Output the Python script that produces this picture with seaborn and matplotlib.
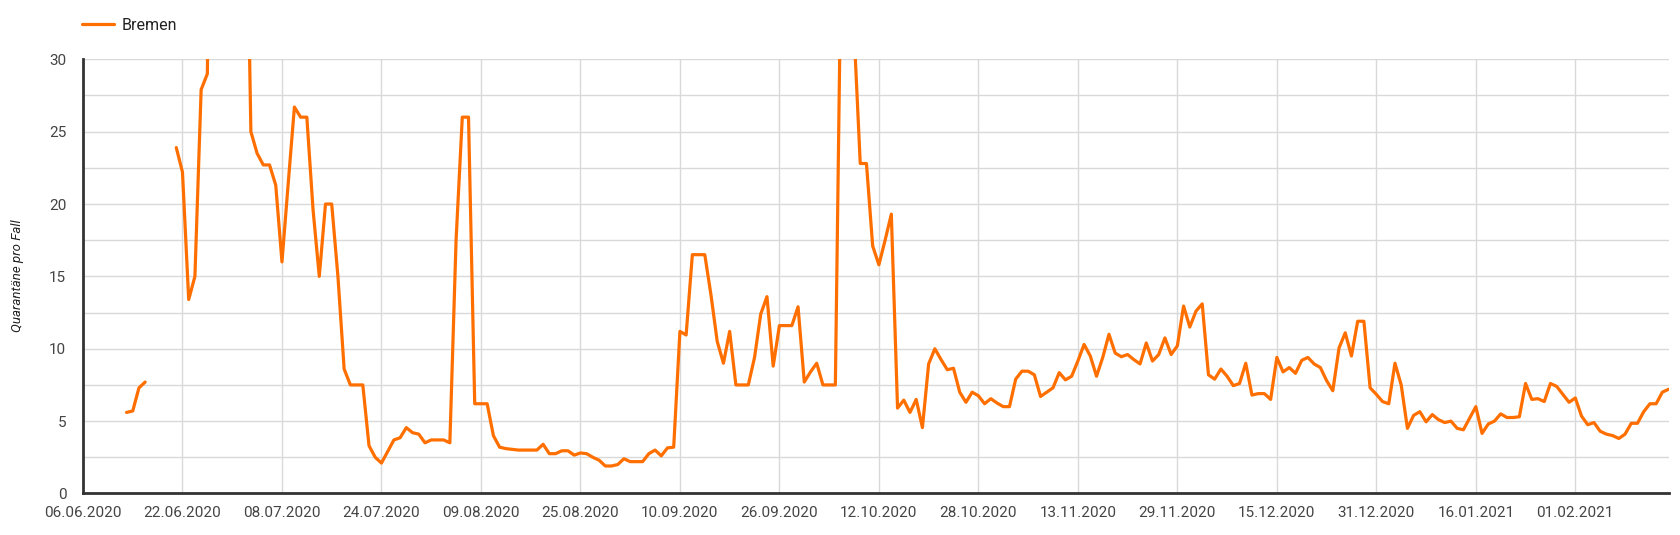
import numpy as np
import pandas as pd
import matplotlib
matplotlib.use("Agg")
import matplotlib.pyplot as plt
import matplotlib.dates as mdates
from matplotlib.lines import Line2D
import seaborn as sns

# ---------------------------------------------------------------------------
# Data: Quarantäne pro Fall, Bremen, daily from 06.06.2020
# (nan = no value; values > 30 run off the top of the chart)
# ---------------------------------------------------------------------------
START = "2020-06-06"
nan = np.nan

quarantaene = [
    nan, nan, nan, nan, nan, nan, nan,                      # 06.06 - 12.06
    5.6, 5.7, 7.3, 7.7,                                     # 13.06 - 16.06
    nan, nan, nan, nan,                                     # 17.06 - 20.06
    23.9, 22.2, 13.4, 15.0, 27.9, 29.0,
    60.0, 55.0, 48.0, 52.0, 58.0, 50.0,                     # above axis
    25.0, 23.5, 22.7, 22.7, 21.3, 16.0, 21.4, 26.7, 26.0, 26.0,
    19.6, 15.0, 20.0, 20.0, 15.0, 8.6, 7.5, 7.5, 7.5, 3.3,
    2.5, 2.1, 2.9, 3.7, 3.85, 4.55, 4.2, 4.1, 3.5, 3.7,
    3.7, 3.7, 3.5, 17.5, 26.0, 26.0, 6.2, 6.2, 6.2, 4.0,
    3.2, 3.1, 3.05, 3.0, 3.0, 3.0, 3.0, 3.4, 2.75, 2.75,
    2.95, 2.95, 2.65, 2.8, 2.75, 2.5, 2.3, 1.9, 1.9, 2.0,
    2.4, 2.2, 2.2, 2.2, 2.75, 3.0, 2.6, 3.15, 3.2, 11.2,
    10.95, 16.5, 16.5, 16.5, 13.7, 10.5, 9.0, 11.2, 7.5, 7.5,
    7.5, 9.4, 12.4, 13.6, 8.8, 11.6, 11.6, 11.6, 12.9, 7.7,
    8.4, 9.0, 7.5, 7.5, 7.5,
    40.0, 45.0, 32.0,                                       # above axis
    22.8, 22.8, 17.1, 15.8, 17.5, 19.3,
    5.9, 6.45, 5.6, 6.5, 4.55, 8.95, 10.0, 9.25, 8.55, 8.65,
    7.0, 6.3, 7.0, 6.75, 6.2, 6.55, 6.25, 6.0, 6.0, 7.9,
    8.45, 8.45, 8.2, 6.7, 7.0, 7.3, 8.35, 7.85, 8.1, 9.15,
    10.3, 9.5, 8.1, 9.4, 11.0, 9.7, 9.45, 9.6, 9.25, 8.95,
    10.4, 9.15, 9.6, 10.75, 9.6, 10.2, 12.95, 11.5, 12.6, 13.1,
    8.2, 7.9, 8.6, 8.1, 7.45, 7.6, 9.0, 6.8, 6.9, 6.9,
    6.5, 9.4, 8.4, 8.7, 8.3, 9.2, 9.4, 8.95, 8.7, 7.8,
    7.1, 10.05, 11.1, 9.5, 11.9, 11.9, 7.3, 6.85, 6.35, 6.2,
    9.0, 7.5, 4.5, 5.4, 5.65, 4.95, 5.45, 5.1, 4.9, 5.0,
    4.5, 4.4, 5.2, 6.0, 4.15, 4.8, 5.0, 5.5, 5.25, 5.25,
    5.3, 7.6, 6.5, 6.55, 6.35, 7.6, 7.4, 6.85, 6.3, 6.6,
    5.35, 4.75, 4.9, 4.3, 4.1, 4.0, 3.8, 4.1, 4.85, 4.85,
    5.65, 6.2, 6.2, 7.0, 7.2,
]

tick_dates = pd.date_range(START, periods=16, freq="16D")
y_ticks = [0, 5, 10, 15, 20, 25, 30]
series_name = "Bremen"
y_title = "Quarantäne pro Fall"

ORANGE = "#ff6f00"
GRID = "#d9d9d9"
AXIS = "#333333"
TEXT = "#444444"

# ---------------------------------------------------------------------------
# Frame: split into connected runs (gaps break the line)
# ---------------------------------------------------------------------------
dates = pd.date_range(START, periods=len(quarantaene), freq="D")
df = pd.DataFrame({"datum": dates, "wert": quarantaene})
df["abschnitt"] = df["wert"].isna().cumsum()
df = df.dropna(subset=["wert"])

# ---------------------------------------------------------------------------
# Plot
# ---------------------------------------------------------------------------
sns.set_theme(style="white")
plt.rcParams["font.family"] = ["Roboto", "DejaVu Sans"]

fig = plt.figure(figsize=(16.8, 5.35), dpi=100)
ax = fig.add_axes([0.0494, 0.0776, 0.9438, 0.8116])

sns.lineplot(data=df, x="datum", y="wert", units="abschnitt", estimator=None,
             color=ORANGE, linewidth=2.3, legend=False, ax=ax)

ax.set_xlim(dates[0], dates[-1])
ax.set_ylim(0, 30)
ax.set_xticks(tick_dates)
ax.xaxis.set_major_formatter(mdates.DateFormatter("%d.%m.%Y"))
ax.set_yticks(y_ticks)
ax.set_yticks(np.arange(2.5, 30, 5), minor=True)

ax.grid(True, which="both", color=GRID, linewidth=1.0)
ax.set_axisbelow(True)
ax.tick_params(axis="both", which="both", length=0, labelsize=11,
               labelcolor=TEXT)
ax.tick_params(axis="x", pad=9)
ax.tick_params(axis="y", pad=12)
ax.set_xlabel("")
ax.set_ylabel("")

for side in ["top", "right"]:
    ax.spines[side].set_visible(False)
for side in ["left", "bottom"]:
    ax.spines[side].set_color(AXIS)
    ax.spines[side].set_linewidth(2.0)
    ax.spines[side].set_zorder(3)

fig.text(18 / 1680, 1 - 276 / 535, y_title, rotation=90, ha="center",
         va="center", fontsize=9.5, fontstyle="italic", color="#222222")

handle = Line2D([], [], color=ORANGE, linewidth=2.3)
fig.legend([handle], [series_name], loc="center left",
           bbox_to_anchor=(68 / 1680, 1 - 25.5 / 535), frameon=False,
           fontsize=11.5, handlelength=2.0, handletextpad=0.45,
           labelcolor="#222222")

fig.savefig("out.png", dpi=100)
plt.close(fig)
